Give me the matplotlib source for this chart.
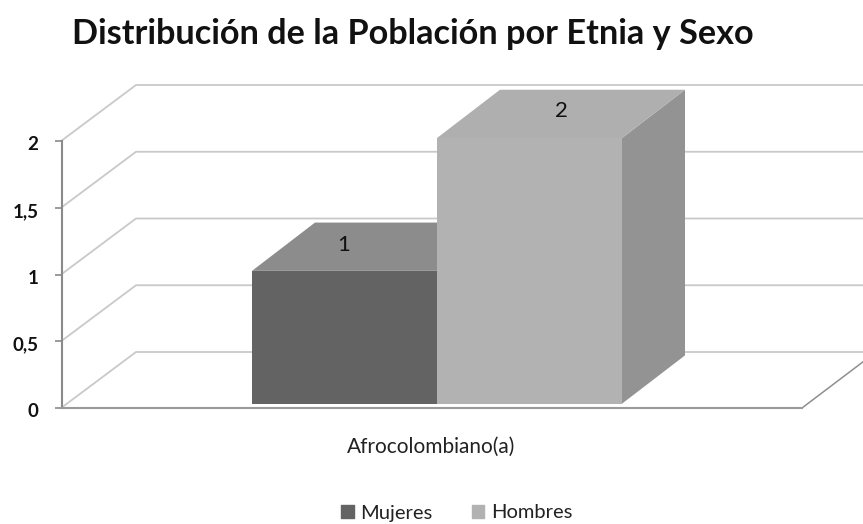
import matplotlib
matplotlib.use('Agg')
import matplotlib.pyplot as plt
from matplotlib.patches import Patch, Polygon
from matplotlib.transforms import ScaledTranslation

# data
category = 'Afrocolombiano(a)'
series = ['Mujeres', 'Hombres']
values = [1, 2]
y_ticks = [0, 0.5, 1, 1.5, 2]
y_labels = ['0', '0,5', '1', '1,5', '2']

front_colors = ['#636363', '#b2b2b2']
top_colors = ['#8c8c8c', '#afafaf']
side_colors = ['#4f4f4f', '#939393']

W, H = 863, 524
plt.rcParams['font.family'] = ['Lato', 'DejaVu Sans']

fig = plt.figure(figsize=(W / 100, H / 100), dpi=100)
# front plane of the fake 3D box, in pixels: x 62-802, y 141-408
ax = fig.add_axes([62 / W, 1 - 408 / H, 740 / W, 267 / H])
ax.set_xlim(0, 1)
ax.set_ylim(0, 2)
ax.patch.set_alpha(0)

# depth of the box and of the bars, in data units
wall_dx, wall_dy = 74 / 740, 56 / 133.5
bar_dx, bar_dy = 63 / 740, 48.3 / 133.5
bar_base = 4.3 / 133.5
bar_scale = 0.995
bar_width = 185 / 740
bar_left = (252 - 62) / 740
# the data labels do not sit at the same spot on each bar
label_dx = [-0.5 / 740, 31.5 / 740]
label_dy = [26 / 133.5, 27 / 133.5]

# gridlines run along the floor/side and then across the back wall
for v in y_ticks:
    ax.plot([0, wall_dx, 1 + wall_dx], [v + 0.005, v + wall_dy, v + wall_dy],
            color='#c9c9c9', lw=1.3, clip_on=False, zorder=1)
ax.plot([1, 1 + wall_dx], [0, wall_dy], color='#8f8f8f', lw=1.1, clip_on=False, zorder=1.5)

for i, v in enumerate(values):
    x0 = bar_left + i * bar_width
    x1 = x0 + bar_width
    top = bar_base + v * bar_scale
    ax.add_patch(Polygon([(x1, bar_base), (x1 + bar_dx, bar_base + bar_dy),
                          (x1 + bar_dx, top + bar_dy), (x1, top)],
                         fc=side_colors[i], ec='none', clip_on=False, zorder=2 + i))
    ax.add_patch(Polygon([(x0, top), (x0 + bar_dx, top + bar_dy),
                          (x1 + bar_dx, top + bar_dy), (x1, top)],
                         fc=top_colors[i], ec='none', clip_on=False, zorder=2 + i))
    ax.bar(x0, v * bar_scale, bottom=bar_base, width=bar_width, align='edge',
           color=front_colors[i], zorder=2.5 + i, clip_on=False)
    ax.text(x0 + bar_width / 2 + label_dx[i], top + label_dy[i], str(v),
            ha='center', va='center', fontsize=16, color='#111111', zorder=6)

for s in ['top', 'right']:
    ax.spines[s].set_visible(False)
ax.spines['left'].set_color('#8a8a8a')
ax.spines['left'].set_linewidth(1.5)
ax.spines['bottom'].set_color('#9a9a9a')
ax.spines['bottom'].set_linewidth(1.5)

ax.set_yticks(y_ticks)
ax.set_yticklabels(y_labels, fontsize=13.5, color='#111111', fontweight='bold')
ax.tick_params(axis='y', length=5, width=1.2, color='#8a8a8a', pad=12)
# tick labels sit about 2 px under their ticks in the reference
shift = ScaledTranslation(0, -2 / 100, fig.dpi_scale_trans)
for lab in ax.get_yticklabels():
    lab.set_transform(lab.get_transform() + shift)
ax.set_xticks([(431 - 62) / 740])
ax.set_xticklabels([category], fontsize=15, color='#222222')
ax.tick_params(axis='x', length=0, pad=21)

fig.text(72 / W, 1 - 34 / H, 'Distribución de la Población por Etnia y Sexo',
         fontsize=24.65, fontweight='bold', color='#111111', ha='left', va='center')

handles = [Patch(color=c, label=s) for c, s in zip(front_colors, series)]
fig.legend(handles=handles, loc='center', bbox_to_anchor=(457 / W, 1 - 513 / H),
           ncol=2, frameon=False, fontsize=14.5, handlelength=0.6, handleheight=0.6,
           handletextpad=0.35, columnspacing=1.95, borderpad=0, labelcolor='#222222')

fig.savefig('out.png', dpi=100)
